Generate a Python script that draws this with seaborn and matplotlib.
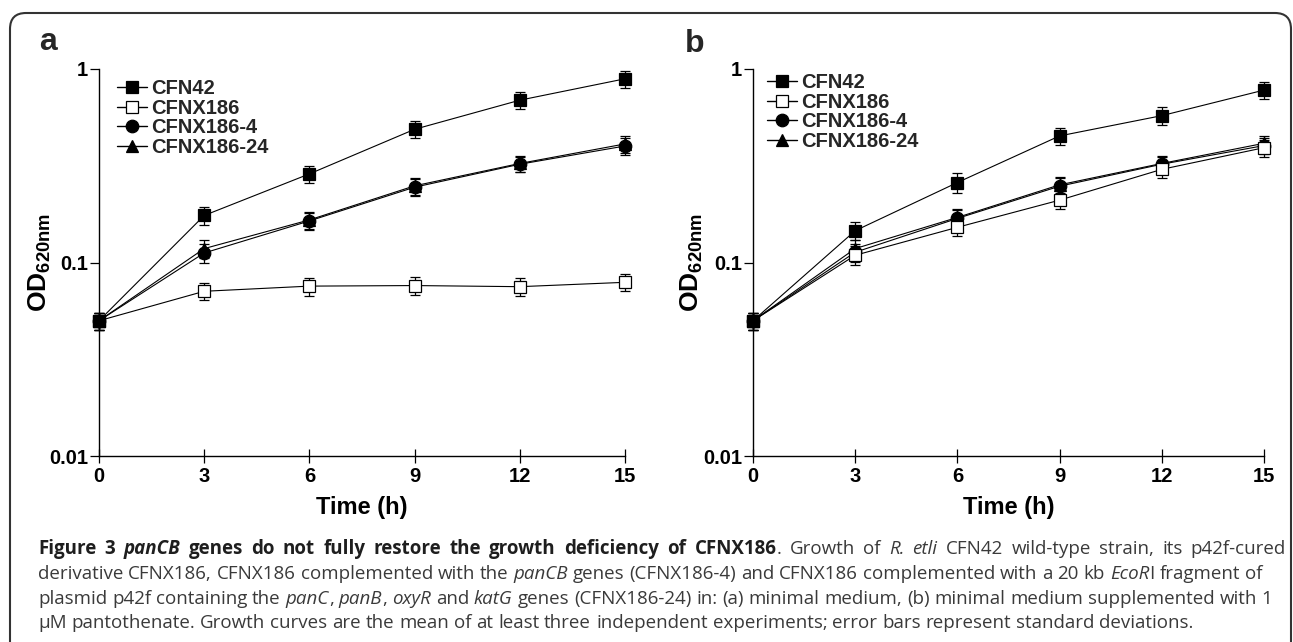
import re
import matplotlib
matplotlib.use("Agg")
import matplotlib.pyplot as plt
import seaborn as sns
import numpy as np
import pandas as pd
from matplotlib.lines import Line2D
from matplotlib.patches import FancyBboxPatch
from matplotlib.transforms import IdentityTransform

# ---------------- data ----------------
time_h = [0, 3, 6, 9, 12, 15]
strains = ["CFN42", "CFNX186", "CFNX186-4", "CFNX186-24"]

# panel a: minimal medium
a_cfn42 = [0.050, 0.175, 0.287, 0.488, 0.690, 0.890]
a_cfnx186 = [0.050, 0.071, 0.0755, 0.076, 0.075, 0.079]
a_cfnx186_4 = [0.050, 0.112, 0.164, 0.245, 0.322, 0.400]
a_cfnx186_24 = [0.050, 0.118, 0.166, 0.249, 0.325, 0.410]
a_sd_cfn42 = [0.005, 0.018, 0.030, 0.050, 0.070, 0.090]
a_sd_cfnx186 = [0.005, 0.007, 0.008, 0.008, 0.008, 0.008]
a_sd_cfnx186_4 = [0.005, 0.012, 0.017, 0.025, 0.030, 0.040]
a_sd_cfnx186_24 = [0.005, 0.013, 0.017, 0.025, 0.030, 0.040]

# panel b: minimal medium + 1 uM pantothenate
b_cfn42 = [0.050, 0.146, 0.259, 0.451, 0.574, 0.778]
b_cfnx186 = [0.050, 0.109, 0.152, 0.210, 0.303, 0.392]
b_cfnx186_4 = [0.050, 0.113, 0.169, 0.248, 0.322, 0.402]
b_cfnx186_24 = [0.050, 0.118, 0.171, 0.252, 0.325, 0.413]
b_sd_cfn42 = [0.005, 0.016, 0.030, 0.045, 0.060, 0.080]
b_sd_cfnx186 = [0.005, 0.012, 0.015, 0.020, 0.030, 0.040]
b_sd_cfnx186_4 = [0.005, 0.012, 0.017, 0.025, 0.030, 0.040]
b_sd_cfnx186_24 = [0.005, 0.013, 0.017, 0.025, 0.030, 0.040]

x_ticks = [0, 3, 6, 9, 12, 15]
y_ticks = [0.01, 0.1, 1]
y_tick_labels = ["0.01", "0.1", "1"]
panel_letters = ["a", "b"]
x_label = "Time (h)"

# ---------------- style ----------------
sns.set_theme(style="ticks")
plt.rcParams["font.family"] = ["Liberation Sans", "DejaVu Sans"]
plt.rcParams["mathtext.fontset"] = "custom"
plt.rcParams["mathtext.bf"] = "Liberation Sans:bold"
plt.rcParams["mathtext.rm"] = "Liberation Sans"

W, H = 1293, 642
fig = plt.figure(figsize=(W / 100, H / 100), dpi=100)
fig.patch.set_facecolor("white")


def frac_rect(x0, x1, ytop, ybot):
    return [x0 / W, 1 - ybot / H, (x1 - x0) / W, (ybot - ytop) / H]


ax_a = fig.add_axes(frac_rect(99, 625, 69, 456))
ax_b = fig.add_axes(frac_rect(753, 1264, 69, 456))

marker_style = {
    "CFN42": dict(marker="s", markersize=9, markerfacecolor="black", z=6),
    "CFNX186": dict(marker="s", markersize=9, markerfacecolor="white", z=5),
    "CFNX186-4": dict(marker="o", markersize=9, markerfacecolor="black", z=4),
    "CFNX186-24": dict(marker="^", markersize=9, markerfacecolor="black", z=3),
}


def make_df(vals, sds):
    rows = []
    for s, v, e in zip(strains, vals, sds):
        for t, vv, ee in zip(time_h, v, e):
            rows.append({"strain": s, "time": t, "od": vv, "sd": ee})
    return pd.DataFrame(rows)


df_a = make_df([a_cfn42, a_cfnx186, a_cfnx186_4, a_cfnx186_24],
               [a_sd_cfn42, a_sd_cfnx186, a_sd_cfnx186_4, a_sd_cfnx186_24])
df_b = make_df([b_cfn42, b_cfnx186, b_cfnx186_4, b_cfnx186_24],
               [b_sd_cfn42, b_sd_cfnx186, b_sd_cfnx186_4, b_sd_cfnx186_24])

LEG_SIZE = 14.5


def draw_panel(ax, df, legend_anchor, ylabel_x):
    for s in reversed(strains):
        sub = df[df.strain == s]
        st = marker_style[s]
        ax.errorbar(sub.time, sub.od, yerr=sub.sd, fmt="none", ecolor="black",
                    elinewidth=0.9, capsize=3.8, capthick=0.9,
                    zorder=st["z"] - 0.5, clip_on=False)
        sns.lineplot(data=sub, x="time", y="od", ax=ax, color="black",
                     linewidth=0.8, marker=st["marker"],
                     markersize=st["markersize"],
                     markerfacecolor=st["markerfacecolor"],
                     markeredgecolor="black", markeredgewidth=0.9,
                     errorbar=None, clip_on=False, zorder=st["z"],
                     legend=False)
    ax.set_yscale("log")
    ax.set_xlim(0, 15)
    ax.set_ylim(0.01, 1)
    ax.set_xticks(x_ticks)
    ax.set_xticklabels([str(t) for t in x_ticks])
    ax.set_yticks(y_ticks)
    ax.set_yticklabels(y_tick_labels)
    ax.yaxis.set_minor_locator(matplotlib.ticker.NullLocator())
    for sp in ["top", "right"]:
        ax.spines[sp].set_visible(False)
    for sp in ["left", "bottom"]:
        ax.spines[sp].set_linewidth(1.0)
        ax.spines[sp].set_color("black")
    ax.tick_params(axis="y", direction="out", length=6.5, width=0.9,
                   pad=1.5, labelsize=14.5, colors="black")
    ax.tick_params(axis="x", direction="inout", length=10, width=0.9,
                   pad=3, labelsize=14.5, colors="black")
    for lab in ax.get_xticklabels() + ax.get_yticklabels():
        lab.set_fontweight("bold")
    ax.set_xlabel(x_label, fontsize=17, fontweight="bold", color="black")
    ax.xaxis.set_label_coords(0.5, -0.134)
    ax.xaxis.label.set_va("center")
    ax.set_ylabel(r"$\mathbf{OD}_{\mathbf{620nm}}$", fontsize=19, color="black")
    ax.yaxis.set_label_coords(ylabel_x, 0.5)
    ax.yaxis.label.set_va("center")
    ax.set_facecolor("white")

    handles = []
    for s in strains:
        st = marker_style[s]
        handles.append(Line2D([], [], color="black", linewidth=1.0,
                              marker=st["marker"], markersize=st["markersize"],
                              markerfacecolor=st["markerfacecolor"],
                              markeredgecolor="black", markeredgewidth=0.9))
    leg = ax.legend(handles, strains, loc="upper left",
                    bbox_to_anchor=(legend_anchor[0] / W, 1 - legend_anchor[1] / H),
                    bbox_transform=fig.transFigure, frameon=False,
                    borderpad=0, borderaxespad=0, handlelength=1.5,
                    handletextpad=0.2, labelspacing=0.03,
                    prop={"family": "Liberation Sans", "weight": "bold",
                          "size": LEG_SIZE})
    return leg


draw_panel(ax_a, df_a, (117, 79), -0.112)
draw_panel(ax_b, df_b, (767, 73), -0.119)

fig.text(39 / W, 1 - 50 / H, panel_letters[0], fontsize=23, fontweight="bold",
         ha="left", va="baseline")
fig.text(685 / W, 1 - 52 / H, panel_letters[1], fontsize=23, fontweight="bold",
         ha="left", va="baseline")

# ---------------- frame ----------------
frame = FancyBboxPatch((10, -60), 1281, (H - 13) + 60,
                       boxstyle="round,pad=0,rounding_size=16",
                       transform=IdentityTransform(), fill=False,
                       linewidth=1.5, edgecolor="#333333")
fig.patches.append(frame)

# ---------------- caption ----------------
CAP_FONT = "Open Sans"
CAP_SIZE = 13.5
renderer = fig.canvas.get_renderer()


def cap_props(weight, style):
    return dict(fontsize=CAP_SIZE, family=CAP_FONT, fontweight=weight,
                fontstyle=style,
                color="#1e1e1e" if weight == "bold" else "#3a3a3a")


def text_width(text, props):
    t1 = fig.text(0, 0, text + "|", transform=IdentityTransform(), **props)
    t2 = fig.text(0, 0, "|", transform=IdentityTransform(), **props)
    w = t1.get_window_extent(renderer).width - t2.get_window_extent(renderer).width
    t1.remove()
    t2.remove()
    return w


def draw_runs(x, y_top, runs, target=None):
    y = H - y_top
    tokens = []
    for text, weight, style in runs:
        props = cap_props(weight, style)
        for tok in re.split("( )", text):
            if tok:
                tokens.append((tok, props, text_width(tok, props)))
    natural = sum(t[2] for t in tokens)
    n_sp = sum(1 for t in tokens if t[0] == " ")
    extra = 0.0
    if target is not None and n_sp and natural < target - x:
        extra = (target - x - natural) / n_sp
    for tok, props, w in tokens:
        if tok == " ":
            x += w + extra
            continue
        fig.text(x, y, tok, transform=IdentityTransform(), va="baseline",
                 ha="left", **props)
        x += w


N, I, B, BI = ("normal", "normal"), ("normal", "italic"), ("bold", "normal"), ("bold", "italic")
cap_lines = [
    [("Figure 3 ", *B), ("panCB", *BI),
     (" genes do not fully restore the growth deficiency of CFNX186", *B),
     (". Growth of ", *N), ("R. etli", *I),
     (" CFN42 wild-type strain, its p42f-cured", *N)],
    [("derivative CFNX186, CFNX186 complemented with the ", *N), ("panCB", *I),
     (" genes (CFNX186-4) and CFNX186 complemented with a 20 kb ", *N),
     ("EcoR", *I), ("I fragment of", *N)],
    [("plasmid p42f containing the ", *N), ("panC", *I), (", ", *N),
     ("panB", *I), (", ", *N), ("oxyR", *I), (" and ", *N), ("katG", *I),
     (" genes (CFNX186-24) in: (a) minimal medium, (b) minimal medium supplemented with 1", *N)],
    [("\u03bcM pantothenate. Growth curves are the mean of at least three independent experiments; error bars represent standard deviations.", *N)],
]
baselines = [554, 579, 604, 628]
targets = [1286, 1236, 1262, None]
for runs, yb, tg in zip(cap_lines, baselines, targets):
    draw_runs(38, yb, runs, tg)

fig.savefig("out.png", dpi=100, facecolor="white")
